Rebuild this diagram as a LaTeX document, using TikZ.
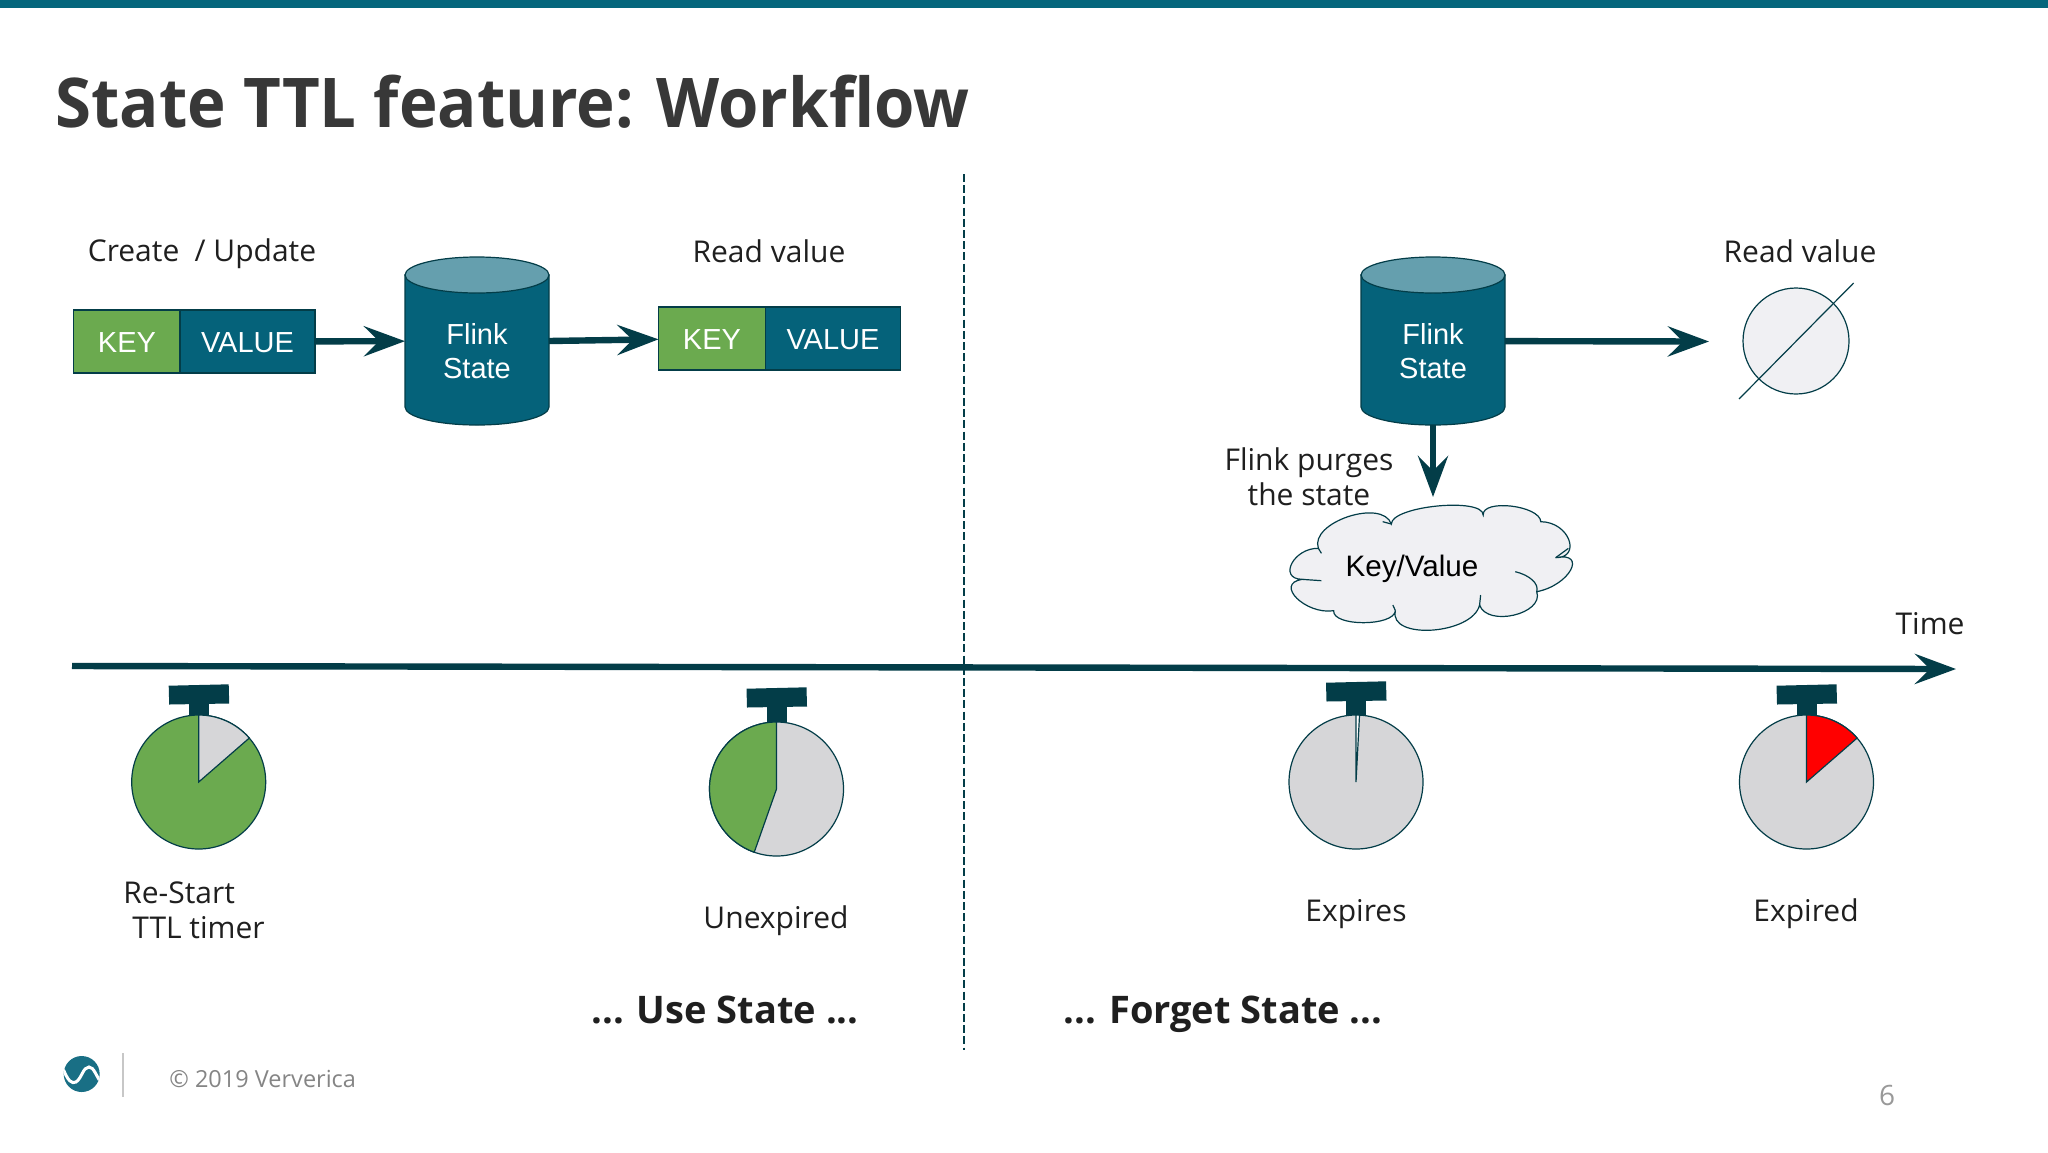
\documentclass[tikz,border=0pt]{standalone}
\usepackage{graphicx}
\usepackage{fontspec}
\setmainfont{Open Sans}
\newfontfamily\arialfont{Liberation Sans}
\usetikzlibrary{arrows.meta}
\definecolor{barteal}{HTML}{05667C}
\definecolor{teal}{HTML}{05627A}
\definecolor{topteal}{HTML}{659FAE}
\definecolor{darkteal}{HTML}{033D48}
\definecolor{keygreen}{HTML}{6BAA4F}
\definecolor{watchgrey}{HTML}{D6D6D8}
\definecolor{pale}{HTML}{F0F0F3}
\newcommand{\fs}[1]{\fontsize{#1}{#1}\selectfont}
% cylinder drawn round an empty node of the same size
\newcommand{\dbshape}[1]{
  \filldraw[thin line, fill=teal] ([yshift=-9pt]#1.north west) -- ([yshift=9pt]#1.south west)
    arc [start angle=180, end angle=0, x radius=72, y radius=18] -- ([yshift=-9pt]#1.north east) -- cycle;
  \filldraw[thin line, fill=topteal] ([yshift=-9pt]#1.north) circle [x radius=72, y radius=18];
}
\tikzset{
  label/.style={inner sep=0pt, outer sep=0pt, text=black!88, font=\fs{15}},
  cell/.style={draw=darkteal, line width=.6pt, minimum height=31.5pt, inner sep=0pt, outer sep=0pt, text=white,
    text height=11.4pt, text depth=0pt, font=\arialfont\fs{14.5}},
  keycell/.style={cell, fill=keygreen, minimum width=53.5pt},
  valcell/.style={cell, fill=teal, minimum width=67.5pt},
  db/.style={rectangle, minimum width=72pt, minimum height=84pt, inner sep=0pt, outer sep=0pt},
  dbtext/.style={inner sep=0pt, outer sep=0pt, align=center, text=white, font=\arialfont\fs{14.5}},
  flow/.style={draw=darkteal, line width=3.2pt, -{Stealth[length=20.5pt,width=15pt,inset=7.5pt]}},
  thin line/.style={draw=darkteal, line width=.6pt},
}
\begin{document}
\begin{tikzpicture}[x=.5pt,y=-.5pt]
\useasboundingbox (0,0) rectangle (2048,1152);
\fill[white] (0,0) rectangle (2048,1152);
\fill[barteal] (0,0) rectangle (2048,8);

% title
\node[anchor=base west, inner sep=0pt, text=black!78, font=\bfseries\fs{34.3}] (title) at (55,127) {\scalebox{.952}[1]{State TTL feature: Workflow}};

% left part
\node[label] (lcreate) at (202,254) {Create\hspace{.25em} / Update};
\node[keycell] (key1) at (127,341.5) {KEY};
\node[valcell] (val1) at (247.5,341.5) {VALUE};
\node[db] (db1) at (477,341) {};
\dbshape{db1}
\node[dbtext] (db1t) at (477,351) {Flink\\[2.4pt]State};
\node[label] (lread1) at (769,251) {Read value};
\node[keycell] (key2) at (712,338.5) {KEY};
\node[valcell] (val2) at (833,338.5) {VALUE};
\draw[flow] (val1) -- (db1);
\draw[flow] (db1.east) -- (key2);

% right part
\node[db] (db2) at (1433,341) {};
\dbshape{db2}
\node[dbtext] (db2t) at (1433,351) {Flink\\[2.4pt]State};
\node[label] (lread2) at (1800,251) {Read value};
\node[circle, thin line, fill=pale, minimum size=53pt, inner sep=0pt, outer sep=0pt] (nul) at (1796,341) {};
\coordinate (s0) at (1739,399);
\coordinate (s1) at (1853.6,283);
\draw[thin line] (s0) -- (s1);
\coordinate (e3) at (1709,341.5);
\draw[flow] (db2) -- (e3);
\coordinate (e4) at (1433,497);
\draw[flow] (db2) -- (e4);
\node[label, align=center] (lpurge) at (1309,477) {Flink purges\\[2.4pt]the state};

% cloud, typed in a frame of its own
\begin{scope}[shift={(1200,220)}, x=.2551pt, y=-.16667pt]
\filldraw[thin line, fill=pale] (232,985)
  .. controls (184,983) and (152,1076) .. (200,1078)
  .. controls (145,1091) and (207,1185) .. (262,1172)
  .. controls (259,1220) and (380,1220) .. (383,1172)
  .. controls (369,1261) and (534,1244) .. (548,1155)
  .. controls (563,1222) and (675,1182) .. (660,1115)
  .. controls (725,1096) and (760,994) .. (697,1013)
  .. controls (748,1014) and (725,906) .. (668,905)
  .. controls (666,856) and (553,836) .. (555,885)
  .. controls (555,831) and (375,858) .. (375,912)
  .. controls (357,834) and (214,907) .. (232,985) -- cycle;
\draw[thin line] (660,1115) .. controls (665,1090) and (645,1065) .. (618,1055);
\draw[thin line] (697,1013) -- (722,985);
\draw[thin line] (200,1078) -- (238,1082);
\draw[thin line] (232,985) -- (238,1000);
\draw[thin line] (375,912) -- (358,905);
\draw[thin line] (548,1155) -- (550,1125);
\draw[thin line] (383,1172) -- (378,1155);
\end{scope}
\node[inner sep=0pt, text=black, font=\arialfont\fs{14.8}] (cloudt) at (1412,569) {Key/Value};

% time line
\coordinate (t0) at (72,666);
\coordinate (t1) at (1956,669);
\draw[flow] (t0) -- (t1);
\node[label] (ltime) at (1930,624) {Time};

% divider
\coordinate (d0) at (964,174);
\coordinate (d1) at (964,1050);
\draw[darkteal, line width=.7pt, dash pattern=on 4pt off 1.6pt] (d0) -- (d1);

% stopwatches
\foreach \cx/\cy/\cap/\base/\slice/\ang in {198.7/782/97/keygreen/watchgrey/-41,
    776.5/789/101/watchgrey/keygreen/-250.6,
    1356/782/100/watchgrey/white/-87,
    1806.5/782/97/watchgrey/red/-41} {
  \fill[darkteal] (\cx-30,\cy-\cap+.7) -- (\cx+30,\cy-\cap-.7) -- (\cx+30.5,\cy-\cap+18.5) -- (\cx-29.5,\cy-\cap+19.5) -- cycle;
  \fill[darkteal] (\cx-10,\cy-\cap+15) rectangle (\cx+10,\cy-60);
  \filldraw[thin line, fill=\base] (\cx,\cy) circle [radius=67];
  \filldraw[thin line, fill=\slice] (\cx,\cy) -- ++(-90:67) arc [start angle=-90, end angle=\ang, radius=67] -- cycle;
}
\node[label, align=left] (lrestart) at (194,910) {Re-Start\\[2.4pt]\hspace*{4.5pt}TTL timer};
\node[label] (lunexp) at (776,921) {Unexpired};
\node[label] (lexps) at (1356,914) {Expires};
\node[label] (lexpd) at (1806,914) {Expired};

% bottom
\node[inner sep=0pt, text=black!88, font=\bfseries\fs{19}] (luse) at (725,1010) {... Use State ...};
\node[inner sep=0pt, text=black!88, font=\bfseries\fs{19}] (lforget) at (1223,1014) {... Forget State ...};

% logo and footer
\fill[teal!92!white] (81.7,1074) circle [radius=18];
\begin{scope}
\clip (81.7,1074) circle [radius=18];
\draw[white, line width=1.5pt] (62,1066) .. controls (68,1082) and (72,1084) .. (76,1082) .. controls (82,1078) and (83,1067) .. (89,1067) .. controls (94,1067) and (96,1076) .. (102,1084);
\end{scope}
\draw[black!22, line width=.8pt] (123,1053) -- (123,1097);
\node[anchor=base west, inner sep=0pt, text=black!48, font=\fs{11.75}] (copy) at (169,1087) {\textcopyright\ 2019 Ververica};
\node[inner sep=0pt, text=black!40, font=\fs{14}] (page) at (1887,1095) {6};
\end{tikzpicture}
\end{document}
